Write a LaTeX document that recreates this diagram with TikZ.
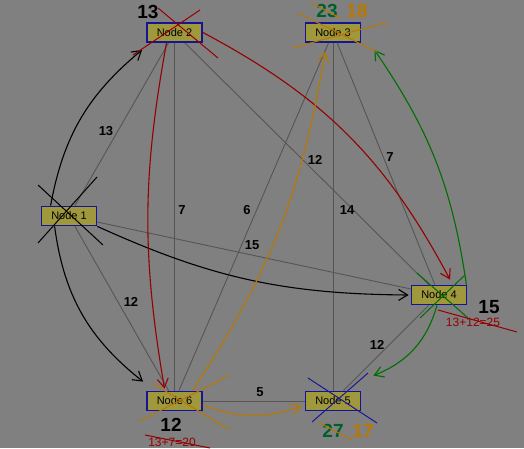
\documentclass[tikz,border=0pt]{standalone}
\usepackage{fontspec}
\setmainfont{Liberation Sans}
\usetikzlibrary{arrows.meta}

\definecolor{bggray}{RGB}{128,128,128}
\definecolor{boxfill}{RGB}{160,152,60}
\definecolor{boxline}{RGB}{20,20,150}
\definecolor{linkgray}{RGB}{85,85,85}
\definecolor{dred}{RGB}{150,0,0}
\definecolor{dgreen}{RGB}{0,110,0}
\definecolor{dorange}{RGB}{185,120,0}
\definecolor{dblue}{RGB}{25,25,150}
\definecolor{tgreen}{RGB}{0,95,45}

\begin{document}
\begin{tikzpicture}[x=1pt,y=1pt,
  vertex/.style={draw=boxline,line width=1.8pt,fill=boxfill,minimum width=55pt,minimum height=19pt,inner sep=0pt,font=\fontsize{11}{12}\selectfont},
  link/.style={linkgray,line width=0.9pt},
  weight/.style={font=\fontsize{13}{14}\selectfont\bfseries},
  dist/.style={font=\fontsize{19}{20}\selectfont\bfseries},
  sumtext/.style={font=\fontsize{12}{13}\selectfont,dred},
  trail/.style={line width=1.1pt,-{Straight Barb[length=9pt,width=11pt]}},
  strike/.style={line width=1pt}]

\fill[bggray] (0,0) rectangle (524,448);
\useasboundingbox (0,0) rectangle (524,448);

\node[vertex] (n1) at (69,232) {Node 1};
\node[vertex] (n2) at (174.5,415.5) {Node 2};
\node[vertex] (n3) at (333,415.5) {Node 3};
\node[vertex] (n4) at (439,153) {Node 4};
\node[vertex] (n5) at (333,47) {Node 5};
\node[vertex] (n6) at (174.5,47) {Node 6};

% edges
\draw[link] (n1) -- (n2);
\draw[link] (n1) -- (n6);
\draw[link] (n1) -- (n4);
\draw[link] (n2) -- (n6);
\draw[link] (n2) -- (n4);
\draw[link] (n3) -- (n6);
\draw[link] (n3) -- (n5);
\draw[link] (n3) -- (n4);
\draw[link] (n4) -- (n5);
\draw[link] (n6) -- (n5);

\node[weight] (w12) at (106,317) {13};
\node[weight] (w16) at (131,146) {12};
\node[weight] (w14) at (252,203) {15};
\node[weight] (w26) at (182,238) {7};
\node[weight] (w24) at (315,288) {12};
\node[weight] (w36) at (247,238) {6};
\node[weight] (w35) at (347,238) {14};
\node[weight] (w34) at (390,291) {7};
\node[weight] (w45) at (377,103) {12};
\node[weight] (w65) at (260,56) {5};

% search paths
\draw[trail] ([xshift=10pt]n1.north west) to[bend left=20] ([shift={(-4pt,-7pt)}]n2.south west);
\draw[trail] ([xshift=14pt]n1.south west) to[bend right=22] ([shift={(-3pt,9pt)}]n6.north west);
\draw[trail] (n1.south east) to[bend right=12] ([xshift=-2pt]n4.west);
\draw[trail,dred] ([xshift=-8pt]n2.south) to[bend right=10] ([shift={(-10pt,2pt)}]n6.north);
\draw[trail,dred] (n2.east) to[bend left=17] ([shift={(11pt,5pt)}]n4.north);
\draw[trail,dorange] ([xshift=18pt]n6.north) to[bend right=12] ([shift={(-8pt,-9pt)}]n3.south);
\draw[trail,dorange] ([yshift=-4pt]n6.east) to[bend right=20] ([shift={(-3pt,-5pt)}]n5.west);
\draw[trail,dgreen] ([xshift=-1pt]n4.north east) to[bend right=13] ([shift={(13pt,-7pt)}]n3.south east);
\draw[trail,dgreen] ([xshift=-2pt]n4.south) to[bend left=26] ([shift={(12pt,15pt)}]n5.north east);

% crossed out nodes
\draw[strike,black] (38,263) -- (103,203);
\draw[strike,black] (38,205) -- (97,271);
\draw[strike,dred] (158,440) -- (218,390);
\draw[strike,dred] (200,438) -- (133,393);
\draw[strike,dorange] (292,400) -- (388,426);
\draw[strike,dorange] (298,435) -- (377,396);
\draw[strike,dgreen] (417,175) -- (468,130);
\draw[strike,dgreen] (420,130) -- (465,173);
\draw[strike,dblue] (308,70) -- (377,25);
\draw[strike,dblue] (312,26) -- (368,75);
\draw[strike,dorange] (152,65) -- (230,18);
\draw[strike,dorange] (138,26) -- (230,73);

% distances
\node[dist] (d2) at (148,436) {13};
\node[dist,tgreen] (d3a) at (327,437) {23};
\node[dist,dorange] (d3b) at (357,437) {18};
\node[dist] (d4) at (489,141) {15};
\node[sumtext] (s4) at (473,126) {13+12=25};
\node[dist] (d6) at (171,23) {12};
\node[sumtext] (s6) at (172,6) {13+7=20};
\node[dist,tgreen] (d5a) at (333,17) {27};
\node[dist,dorange] (d5b) at (363,17) {17};

\draw[strike,dorange] (312,445) -- (340,430);
\draw[strike,dorange] (318,26) -- (352,8);
\draw[strike,dred] (438,138) -- (517,116);
\draw[strike,dred] (145,13) -- (210,0);

\end{tikzpicture}
\end{document}
